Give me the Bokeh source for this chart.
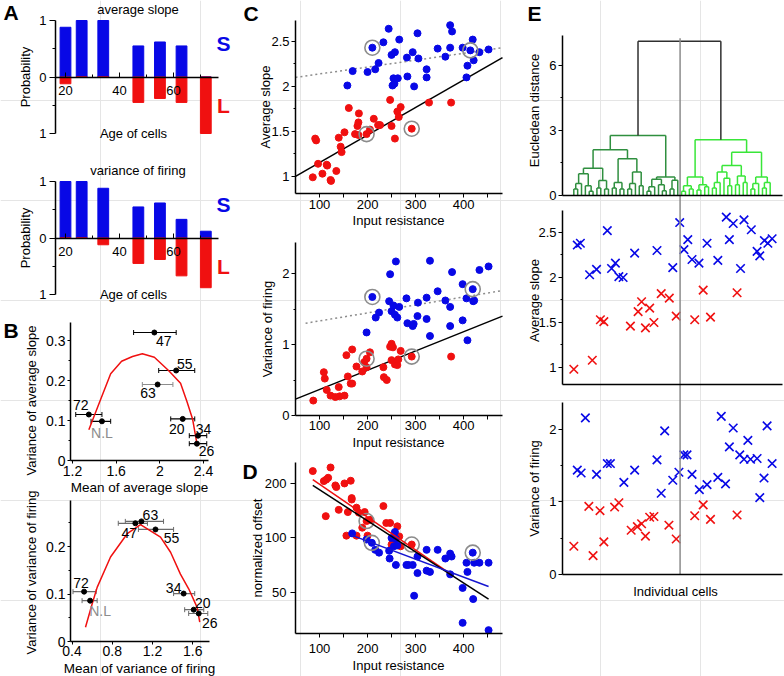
import math
from bokeh.plotting import figure
from bokeh.models import (FixedTicker, CustomJSTickFormatter, Label, Range1d, LinearAxis, LogAxis,
                          LogScale, ColumnDataSource, Whisker, TeeHead)
from bokeh.embed import file_html
from bokeh.resources import INLINE

FONT = "Liberation Sans"
BLUE = "#0808e6"
RED = "#f01010"
GREY = "#8c8c8c"
DKGREEN = "#2f8f3f"
LTGREEN = "#39e639"

# ---------------- data ----------------
# Panel A
ages = [20, 26, 34, 47, 55, 63, 72]
slope_prob_S = [0.88, 1.0, 1.0, 0.55, 0.62, 0.55, 0.0]
slope_prob_L = [0.12, 0.0, 0.0, 0.45, 0.38, 0.45, 1.0]
firing_prob_S = [1.0, 1.0, 0.88, 0.55, 0.62, 0.33, 0.12]
firing_prob_L = [0.0, 0.0, 0.12, 0.45, 0.38, 0.67, 0.88]

# Panel B
b1_names = ["47", "55", "63", "72", "N.L", "20", "34", "26"]
b1_mean = [1.95, 2.15, 1.98, 1.35, 1.47, 2.21, 2.35, 2.34]
b1_var = [0.320, 0.225, 0.190, 0.115, 0.098, 0.104, 0.062, 0.042]
b1_lo = [1.76, 1.99, 1.84, 1.23, 1.37, 2.10, 2.27, 2.27]
b1_hi = [2.15, 2.32, 2.12, 1.47, 1.55, 2.32, 2.43, 2.43]
b1_fit_x = [1.35, 1.43, 1.55, 1.65, 1.75, 1.84, 1.95, 2.08, 2.19, 2.25, 2.30, 2.34]
b1_fit_y = [0.077, 0.133, 0.217, 0.248, 0.260, 0.267, 0.258, 0.225, 0.193, 0.146, 0.104, 0.042]

b2_names = ["63", "47", "55", "72", "N.L", "34", "20", "26"]
b2_mean = [1.09, 1.03, 1.23, 0.52, 0.58, 1.51, 1.61, 1.66]
b2_var = [0.253, 0.249, 0.236, 0.105, 0.086, 0.101, 0.067, 0.059]
b2_lo = [0.93, 0.86, 1.06, 0.41, 0.50, 1.41, 1.52, 1.56]
b2_hi = [1.31, 1.15, 1.41, 0.64, 0.65, 1.62, 1.71, 1.75]
b2_fit_x = [0.534, 0.60, 0.65, 0.783, 0.949, 1.081, 1.28, 1.38, 1.478, 1.56, 1.644, 1.67]
b2_fit_y = [0.030, 0.079, 0.114, 0.178, 0.227, 0.246, 0.220, 0.188, 0.142, 0.111, 0.072, 0.041]

# Panel C (top): average slope vs input resistance
c1_blue_x = [158, 169, 200, 210, 216, 223, 233, 244, 250, 257, 252, 256, 254, 263, 266, 282, 283, 294,
             297, 304, 306, 323, 323, 346, 362, 372, 372, 376, 398, 406, 408, 414, 419, 421, 433, 452]
c1_blue_y = [2.01, 2.17, 2.16, 2.43, 2.19, 2.26, 2.49, 2.64, 2.35, 2.38, 2.01, 2.03, 2.09, 2.09, 2.52,
             2.32, 2.11, 2.38, 2.00, 2.59, 2.31, 2.19, 2.10, 2.42, 2.33, 2.68, 2.43, 2.61, 2.43, 2.10,
             2.23, 2.40, 2.52, 2.29, 2.38, 2.41]
c1_red_x = [86, 91, 93, 97, 106, 115, 116, 123, 124, 135, 140, 144, 146, 152, 161, 174, 179, 181, 182,
            181, 198, 205, 213, 222, 226, 247, 250, 257, 262, 265, 269, 292, 328, 374]
c1_red_y = [0.99, 1.42, 1.40, 1.14, 1.03, 1.13, 1.12, 0.96, 0.95, 1.06, 1.43, 1.33, 1.27, 1.49, 1.76,
            1.47, 1.56, 1.60, 1.70, 1.46, 1.47, 1.52, 1.64, 1.57, 1.57, 1.85, 1.56, 1.42, 1.72, 1.66,
            1.77, 1.53, 1.82, 1.82]
c1_circ_x = [210, 414, 198, 292]
c1_circ_y = [2.43, 2.40, 1.47, 1.53]
c1_fit_x = [50, 481]
c1_fit_all = [1.00, 2.32]
c1_fit_dot_x = [50, 481]
c1_fit_dot = [2.10, 2.43]

# Panel C (middle): variance of firing vs input resistance
c2_blue_x = [198, 210, 217, 224, 247, 245, 250, 254, 257, 259, 262, 266, 281, 283, 294, 296, 305, 304,
             323, 323, 330, 330, 346, 362, 372, 372, 376, 398, 398, 406, 408, 419, 420, 422, 433, 452]
c2_blue_y = [1.17, 1.67, 1.38, 1.45, 1.99, 1.61, 1.47, 1.55, 1.42, 2.17, 1.38, 1.53, 1.65, 1.30, 1.26,
             1.29, 1.59, 1.40, 1.66, 1.36, 1.12, 2.18, 1.75, 1.62, 1.53, 1.26, 2.02, 1.85, 1.34, 1.65,
             1.06, 1.78, 1.61, 1.62, 2.05, 2.10]
c2_red_x = [87, 109, 111, 115, 123, 133, 140, 142, 152, 156, 159, 165, 168, 168, 177, 189, 193, 198,
            198, 205, 233, 234, 240, 247, 250, 253, 250, 257, 262, 264, 269, 292, 374]
c2_red_y = [0.21, 0.61, 0.52, 0.36, 0.28, 0.26, 0.40, 0.27, 0.28, 0.85, 0.55, 0.45, 0.45, 0.93, 0.69,
            0.62, 0.75, 0.80, 0.68, 0.89, 0.68, 0.54, 0.50, 0.97, 1.01, 0.96, 0.78, 0.72, 0.71, 0.79,
            0.91, 0.83, 0.83]
c2_circ_x = [210, 419, 198, 292]
c2_circ_y = [1.67, 1.78, 0.80, 0.83]
c2_fit_x = [50, 481]
c2_fit_all = [0.23, 1.40]
c2_fit_dot_x = [71, 481]
c2_fit_dot = [1.30, 1.76]

# Panel D: normalized offset vs input resistance
d_red_x = [86, 109, 114, 118, 113, 123, 133, 135, 140, 152, 159, 165, 167, 167, 177, 182, 194, 189,
           177, 156, 200, 198, 205, 233, 239, 247, 250, 253, 262, 266, 269, 292]
d_red_y = [234, 206, 210, 215, 132, 245, 195, 191, 143, 200, 139, 207, 166, 163, 147, 138, 139, 114,
           103, 103, 103, 124, 126, 150, 121, 121, 92, 95, 116, 102, 90, 92]
d_blue_x = [168, 198, 209, 216, 224, 245, 246, 250, 255, 257, 259, 259, 262, 281, 285, 294, 297, 304,
            304, 323, 323, 330, 346, 362, 372, 375, 372, 398, 406, 408, 398, 419, 422, 420, 433, 452, 452]
d_blue_y = [106, 98, 94, 86, 83, 85, 77, 100, 90, 108, 99, 71, 91, 71, 71, 71, 48, 79, 64, 86, 66, 65,
            86, 77, 82, 79, 63, 53, 73, 65, 34, 83, 73, 46, 73, 73, 31]
d_circ_x = [198, 209, 292, 419]
d_circ_y = [124, 94, 92, 83]
d_fit_red_x = [86, 372]
d_fit_red_y = [210, 63.5]
d_fit_all_x = [86, 452]
d_fit_all_y = [195, 46]
d_fit_blue_x = [165, 452]
d_fit_blue_y = [104, 54]

# Panel E: dendrogram (merge height, left, right); 0 = single cell
dendro_tree = [7.12,
  [2.77,
    [2.11,
      [1.26,
        [1.0, [0.55, [0.3, 0, 0], 0], [0.45, 0, [0.2, 0, 0]]],
        [0.69, [0.35, 0, 0], [0.3, 0, 0]]],
      [1.69,
        [0.6, [0.35, 0, 0], [0.3, 0, 0]],
        [1.08, [0.55, [0.3, 0, 0], 0], [0.45, 0, 0]]]],
    [0.85,
      [0.75, [0.4, [0.2, 0, 0], 0], [0.5, 0, [0.22, 0, 0]]],
      [0.7, [0.3, 0, 0], 0]]],
  [2.57,
    [0.85, [0.45, [0.2, 0, 0], [0.3, 0, 0]], [0.5, [0.25, 0, 0], [0.4, 0, 0]]],
    [2.0,
      [1.38, [1.08, [0.6, [0.35, 0, 0], 0], [0.8, 0, [0.45, 0, 0]]], [0.9, [0.5, 0, 0], [0.6, 0, 0]]],
      [0.85, [0.55, [0.3, 0, 0], 0], [0.6, [0.35, 0, 0], 0]]]]]
cluster_split = 27.6
split_top = 7.25

e2_red_x = [0.0, 4.8, 6.9, 7.8, 14.7, 16.7, 17.6, 18.6, 19.7, 20.8, 22.7, 24.8, 26.6, 31.4, 33.6, 35.5, 42.4]
e2_red_y = [0.98, 1.08, 1.53, 1.51, 1.46, 1.62, 1.73, 1.44, 1.66, 1.50, 1.82, 1.77, 1.57, 1.53, 1.86, 1.56, 1.83]
e2_blue_x = [0.9, 1.7, 4.1, 5.9, 8.7, 9.8, 10.8, 11.7, 12.8, 15.8, 21.6, 25.7, 27.5, 28.6, 29.6, 30.7,
             32.5, 34.6, 37.4, 39.6, 40.4, 41.4, 43.3, 44.2, 46.1, 47.6, 48.3, 49.5, 50.4, 51.5]
e2_blue_y = [2.36, 2.38, 2.03, 2.09, 2.52, 2.10, 2.16, 2.01, 2.00, 2.27, 2.30, 2.11, 2.61, 2.31, 2.42,
             2.20, 2.16, 2.38, 2.19, 2.67, 2.42, 2.60, 2.10, 2.64, 2.53, 2.29, 2.24, 2.41, 2.38, 2.43]
e3_red_x = [0.0, 3.9, 5.0, 6.8, 7.8, 10.6, 11.7, 14.9, 16.5, 17.6, 18.6, 19.7, 20.8, 24.7, 26.6, 31.4,
            33.6, 35.5, 42.4]
e3_red_y = [0.39, 0.94, 0.26, 0.88, 0.45, 0.93, 0.99, 0.61, 0.66, 0.70, 0.53, 0.79, 0.80, 0.68, 0.49,
            0.81, 0.96, 0.76, 0.82]
e3_blue_x = [0.9, 1.9, 3.0, 5.9, 8.7, 9.5, 13.0, 15.8, 21.6, 22.7, 23.6, 25.7, 27.3, 28.6, 29.4, 30.7,
             32.6, 34.6, 37.4, 38.3, 39.4, 40.4, 41.4, 43.1, 44.2, 45.2, 45.9, 47.6, 48.3, 49.4, 50.2, 51.5]
e3_blue_y = [1.44, 1.40, 2.16, 1.38, 1.53, 1.53, 1.27, 1.44, 1.58, 1.12, 1.98, 1.30, 1.41, 1.65, 1.65,
             1.38, 1.17, 1.24, 1.34, 2.18, 1.25, 1.76, 2.02, 1.65, 1.59, 1.85, 1.59, 1.60, 1.06, 1.33,
             2.05, 1.53]

# label placement (px: right, down) for panel B
b1_label_off = [(9.5, 8.5), (8.5, -7), (-9.5, 8.5), (-8, -9.5), (0, 11.5), (-6, 10), (5.5, -7), (9.5, 7)]
b2_label_off = [(9, -6.5), (-6, 9.5), (16, 8.5), (-3, -9), (10, 10), (-10, -6), (9, -7), (11, 10)]

# ---------------- layout (one canvas, one set of ranges per panel) ----------------
W, H = 784, 676
M = 0  # canvas offset from the reference pixel grid
FMT = "return String(Math.abs(Math.round(tick*1000)/1000));"

p = figure(width=W, height=H, x_range=Range1d(0, W), y_range=Range1d(H, 0), output_backend="svg",
           toolbar_location=None, title=None, x_axis_location=None, y_axis_location=None,
           min_border=0, min_border_left=0, min_border_right=0, min_border_top=0, min_border_bottom=0)
p.outline_line_color = None
p.background_fill_color = "white"
p.border_fill_color = "white"

xranges, yranges, yscales = {}, {}, {}
BOX = {}


def panel(name, xr, box_x, yr, box_y, ylog=False):
    (x0, x1), (L, R) = xr, box_x
    (y0, y1), (B, T) = yr, box_y
    L, R, T, B = L - M, R - M, T - M, B - M
    sx = (x1 - x0) / (R - L)
    xranges[name] = Range1d(x0 - L * sx, x1 + (W - R) * sx)
    f = math.log10 if ylog else (lambda v: v)
    ly0, ly1 = f(y0), f(y1)
    sy = (ly1 - ly0) / (B - T)
    ys, ye = ly0 - (H - B) * sy, ly1 + T * sy
    if ylog:
        ys, ye = 10 ** ys, 10 ** ye
        yscales[name] = LogScale()
    yranges[name] = Range1d(ys, ye)
    BOX[name] = (x0, x1, y0, y1, ylog)


panel("a1", (16.3, 76.7), (55, 218), (-1, 1), (133, 20))
panel("a2", (16.3, 76.7), (55, 218), (-1, 1), (294, 181))
panel("b1", (1.182, 2.446), (70, 208), (0, 0.345), (460, 322))
panel("b2", (0.385, 1.767), (70, 209), (0, 0.297), (641, 500))
panel("c1", (50, 481), (295, 502), (0.81, 2.732), (193, 20))
panel("c2", (50, 481), (295, 502), (0, 2.437), (415, 242))
panel("d", (50, 481), (295, 502), (29.7, 261), (633, 462), ylog=True)
panel("e1", (-2.94, 54.2), (562, 782), (0, 7.38), (195, 35))
panel("e2", (-2.94, 54.2), (562, 782), (0.811, 2.744), (384, 210))
panel("e3", (-2.94, 54.2), (562, 782), (0, 2.372), (574, 402))
p.extra_x_ranges = xranges
p.extra_y_ranges = yranges
p.extra_y_scales = yscales


def nm(name):
    return dict(x_range_name=name, y_range_name=name)


def style(ax, ticks, minor, out, tin, minor_out, minor_in, standoff, size):
    ax.ticker = FixedTicker(ticks=list(ticks), minor_ticks=list(minor))
    ax.formatter = CustomJSTickFormatter(code=FMT)
    ax.axis_line_width = 1.5
    ax.axis_line_color = "black"
    ax.major_tick_line_width = 1
    ax.minor_tick_line_width = 1
    ax.major_tick_out = out
    ax.major_tick_in = tin
    ax.minor_tick_out = minor_out
    ax.minor_tick_in = minor_in
    ax.major_label_standoff = standoff
    ax.major_label_text_font = FONT
    ax.major_label_text_font_size = size
    ax.major_label_text_color = "black"


def axes(name, xt=(), xminor=(), yt=(), yminor=(), xout=4, xin=0, xmout=2, xmin_=0, xstand=2,
         yout=4, ystand=2, ymout=2, size="13px", xfixed=None):
    x0, x1, y0, y1, ylog = BOX[name]
    xa = LinearAxis(fixed_location=y0 if xfixed is None else xfixed, bounds=(x0, x1), **nm(name))
    style(xa, xt, xminor, xout, xin, xmout, xmin_, xstand, size)
    ya = (LogAxis if ylog else LinearAxis)(fixed_location=x0, bounds=(y0, y1), **nm(name))
    style(ya, yt, yminor, yout, 0, ymout, 0, ystand, size)
    p.add_layout(xa, "below")
    p.add_layout(ya, "left")


def txt(x, y, s, size="13px", color="black", align="center", baseline="middle", bold=False, angle=0.0,
        name=None, dx=0, dy=0):
    kw = nm(name) if name else {}
    if name is None:
        x, y = x - M, y - M
    p.add_layout(Label(x=x, y=y, text=s, x_offset=dx, y_offset=-dy, text_font=FONT, text_font_size=size,
                       text_color=color, text_align=align, text_baseline=baseline, angle=angle,
                       text_font_style="bold" if bold else "normal", **kw))


def letter(s, x, y):
    txt(x, y, s, size="21px", align="left", baseline="top", bold=True)


VERT = math.pi / 2

# ---------------- Panel A ----------------
for name, S, L, title, ty, yc in (("a1", slope_prob_S, slope_prob_L, "average slope", 9, 76.5),
                                  ("a2", firing_prob_S, firing_prob_L, "variance of firing", 170, 237.5)):
    p.vbar(x=ages, width=4, top=S, bottom=0, color=BLUE, **nm(name))
    p.vbar(x=ages, width=4, top=0, bottom=[-v for v in L], color=RED, **nm(name))
    axes(name, [20, 40, 60], [30, 50, 70], [-1, 0, 1], [-0.5, 0.5], xout=0, xin=5, xmout=0, xmin_=3,
         xstand=9, yout=6, ystand=3, ymout=3, xfixed=0)
    txt(137.5, ty, title)
    txt(25, yc, "Probability", angle=VERT)
    txt(133, yc + 56.5, "Age of cells")
    txt(223, yc - 33.5, "S", size="21px", color=BLUE, bold=True)
    txt(223, yc + 28.5, "L", size="21px", color=RED, bold=True)
letter("A", 3, 0)


# ---------------- Panel B ----------------
def panel_b(name, names, mean, var, lo, hi, fx, fy, offs, xt, yt, yminor, xlabel, ylabel, bar_colors,
            xlab_y, ylab_y, xstand):
    p.line(fx, fy, line_color=RED, line_width=1.5, **nm(name))
    for col in sorted(set(bar_colors)):
        idx = [i for i, c in enumerate(bar_colors) if c == col]
        src = ColumnDataSource(dict(y=[var[i] for i in idx], lo=[lo[i] for i in idx], hi=[hi[i] for i in idx]))
        p.add_layout(Whisker(source=src, base="y", lower="lo", upper="hi", dimension="width", line_color=col,
                             line_width=1.2,
                             upper_head=TeeHead(size=5, line_color=col, line_width=1),
                             lower_head=TeeHead(size=5, line_color=col, line_width=1), **nm(name)))
    p.scatter(mean, var, size=5, color="black", **nm(name))
    for n, m, v, (dx, dy) in zip(names, mean, var, offs):
        txt(m, v, n, size="14px", color=GREY if n == "N.L" else "black", name=name, dx=dx, dy=dy)
    axes(name, xt, [], yt, yminor, xout=3, xstand=xstand, yout=3, ystand=2, size="14px")
    txt(139, xlab_y, xlabel, size="13.5px")
    txt(31, ylab_y, ylabel, angle=VERT)


panel_b("b1", b1_names, b1_mean, b1_var, b1_lo, b1_hi, b1_fit_x, b1_fit_y, b1_label_off,
        [1.2, 1.6, 2.0, 2.4], [0, 0.1, 0.2, 0.3], [0.05, 0.15, 0.25],
        "Mean of average slope", "Variance of average slope",
        ["black", "black", GREY, "black", "black", "black", "black", "black"], 487, 400, 2)
panel_b("b2", b2_names, b2_mean, b2_var, b2_lo, b2_hi, b2_fit_x, b2_fit_y, b2_label_off,
        [0.4, 0.8, 1.2, 1.6], [0, 0.1, 0.2], [0.05, 0.15, 0.25],
        "Mean of variance of firing", "Variance of variance of firing", ["#6a6a6a"] * 8, 668, 572, 1)
letter("B", 3, 318)


# ---------------- Panel C / D ----------------
def dots(name, bx, by, rx, ry, cx, cy):
    p.scatter(rx, ry, size=7, color=RED, **nm(name))
    p.scatter(bx, by, size=7, color=BLUE, **nm(name))
    p.scatter(cx, cy, size=15, marker="circle", fill_color=None, line_color=GREY, line_width=1.6, **nm(name))


XT, XM = [100, 200, 300, 400], [150, 250, 350, 450]

p.line(c1_fit_dot_x, c1_fit_dot, line_color=GREY, line_width=1.5, line_dash="2 3", **nm("c1"))
p.line(c1_fit_x, c1_fit_all, line_color="black", line_width=1.5, **nm("c1"))
dots("c1", c1_blue_x, c1_blue_y, c1_red_x, c1_red_y, c1_circ_x, c1_circ_y)
axes("c1", XT, XM, [1, 1.5, 2, 2.5], [1.25, 1.75, 2.25], xout=4, xmout=4, xstand=2)
txt(398, 220, "Input resistance")
txt(265, 106.5, "Average slope", angle=VERT)
letter("C", 243, 1)

p.line(c2_fit_dot_x, c2_fit_dot, line_color=GREY, line_width=1.5, line_dash="2 3", **nm("c2"))
p.line(c2_fit_x, c2_fit_all, line_color="black", line_width=1.5, **nm("c2"))
dots("c2", c2_blue_x, c2_blue_y, c2_red_x, c2_red_y, c2_circ_x, c2_circ_y)
axes("c2", XT, XM, [0, 1, 2], [0.5, 1.5], xout=4, xmout=4, xstand=1)
txt(398, 442, "Input resistance")
txt(267, 328.5, "Variance of firing", angle=VERT)

dots("d", d_blue_x, d_blue_y, d_red_x, d_red_y, d_circ_x, d_circ_y)
p.line(d_fit_red_x, d_fit_red_y, line_color=RED, line_width=1.5, **nm("d"))
p.line(d_fit_all_x, d_fit_all_y, line_color="black", line_width=1.5, **nm("d"))
p.line(d_fit_blue_x, d_fit_blue_y, line_color="#1515d0", line_width=1.5, **nm("d"))
axes("d", XT, XM, [50, 100, 200], [], xout=4, xmout=4, xstand=6, yout=5, ystand=4)
txt(398, 665, "Input resistance")
txt(257, 547.5, "normalized offset", angle=VERT)
letter("D", 242, 459)


# ---------------- Panel E ----------------
def build_dendro(node, counter, color, segs):
    if node == 0:
        x = counter[0]
        counter[0] += 1
        return x, 0.0
    h, left, right = node
    xl, hl = build_dendro(left, counter, color, segs)
    xr, hr = build_dendro(right, counter, color, segs)
    for seg in ((xl, hl, xl, h), (xr, hr, xr, h), (xl, h, xr, h)):
        segs.append(seg + (color,))
    return (xl + xr) / 2.0, h


def build_root(tree):
    segs = []
    counter = [0]
    h, left, right = tree
    xl, hl = build_dendro(left, counter, DKGREEN, segs)
    xr, hr = build_dendro(right, counter, LTGREEN, segs)
    for seg in ((xl, hl, xl, h), (xr, hr, xr, h), (xl, h, xr, h)):
        segs.append(seg + ("#303030",))
    return segs


segs = build_root(dendro_tree)
p.segment(x0=[s[0] for s in segs], y0=[s[1] for s in segs], x1=[s[2] for s in segs], y1=[s[3] for s in segs],
          line_color=[s[4] for s in segs], line_width=1.5, **nm("e1"))
axes("e1", [], [], [0, 3, 6], [1.5, 4.5], xout=0, xmout=0)
txt(534, 110, "Eucledean distance", angle=VERT)
letter("E", 527, 1)

p.scatter(e2_red_x, e2_red_y, marker="x", size=12, line_color=RED, line_width=1.6, **nm("e2"))
p.scatter(e2_blue_x, e2_blue_y, marker="x", size=12, line_color=BLUE, line_width=1.6, **nm("e2"))
axes("e2", [], [], [1, 1.5, 2, 2.5], [1.25, 1.75, 2.25], xout=0, xmout=0)
txt(534, 300, "Average slope", angle=VERT)

p.scatter(e3_red_x, e3_red_y, marker="x", size=12, line_color=RED, line_width=1.6, **nm("e3"))
p.scatter(e3_blue_x, e3_blue_y, marker="x", size=12, line_color=BLUE, line_width=1.6, **nm("e3"))
axes("e3", [], [], [0, 1, 2], [0.5, 1.5], xout=0, xmout=0)
txt(534, 488, "Variance of firing", angle=VERT)
txt(675, 591, "Individual cells")

# cluster split line through the three E panels (from dendrogram top to the bottom panel's baseline)
e1_y = yranges["e1"]
e1_per_px = (e1_y.end - e1_y.start) / H
split_bottom = -(574 - 195) * e1_per_px
p.segment(x0=[cluster_split], y0=[split_bottom], x1=[cluster_split], y1=[split_top],
          line_color=GREY, line_width=1.5, **nm("e1"))

open("out.html", "w").write(file_html(p, INLINE))
